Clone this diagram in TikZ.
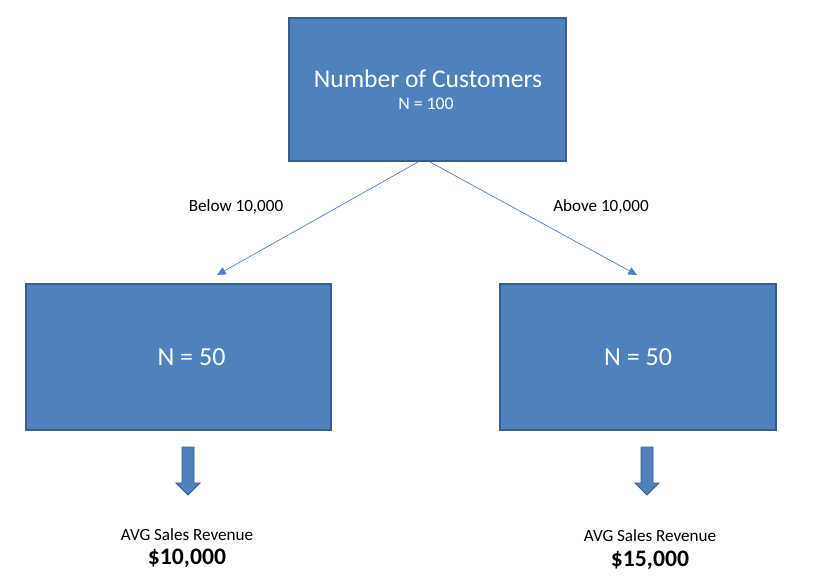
\documentclass[tikz,border=0pt]{standalone}
\usepackage{fontspec}
\setmainfont{Carlito}
\usepackage{tikz}
\usetikzlibrary{arrows.meta,positioning}
\definecolor{boxblue}{HTML}{4F81BD}
\definecolor{boxedge}{HTML}{385D8A}
\tikzset{
  box/.style={draw=boxedge,fill=boxblue,line width=1.7pt,text=white,align=center,inner sep=0pt},
  ar/.style={-{Triangle[length=2.6mm,width=2.4mm]},draw=boxblue,line width=0.6pt},
  lbl/.style={font=\fontsize{14.6}{17}\selectfont,inner sep=0pt},
  val/.style={font=\fontsize{20.2}{24}\selectfont\bfseries,inner sep=0pt},
  blockar/.style={draw=boxedge,fill=boxblue,line width=0.8pt},
}
\begin{document}
\begin{tikzpicture}[x=0.03cm,y=-0.03cm]
\useasboundingbox (0,0) rectangle (827,586);
% root and the two splits
\node[box,minimum width=8.31cm,minimum height=4.29cm] (root) at (427.5,89.5) {};
\node[text=white,font=\fontsize{21.8}{26}\selectfont,inner sep=0pt] (rtitle) at (428,79) {Number of Customers};
\node[text=white,font=\fontsize{15.2}{18}\selectfont,inner sep=0pt] (rn) at (426,104) {N = 100};
\node[box,minimum width=9.15cm,minimum height=4.38cm,font=\fontsize{22.2}{26}\selectfont] (lo) at (178.5,357) {\hspace*{0.78cm}N = 50};
\node[box,minimum width=8.28cm,minimum height=4.38cm,font=\fontsize{22.2}{26}\selectfont] (hi) at (638,357) {N = 50};
% connectors
\coordinate (ltip) at (217,275);
\coordinate (rtip) at (637,275);
\draw[ar] (root.south -| 418,0) -- (ltip);
\draw[ar] (root.south -| 430,0) -- (rtip);
\node[lbl] (below) at (236,207) {Below 10,000};
\node[lbl] (above) at (601,207) {Above 10,000};
% block arrows
\foreach \n/\x in {l/188,r/647} {
  \coordinate (b\n) at (\x,447);
  \draw[blockar] (b\n) ++(-6,0) -- ++(12,0) -- ++(0,36) -- ++(6,0) -- ++(-12,12) -- ++(-12,-12) -- ++(6,0) -- cycle;
}
% averages
\node[lbl] (lavg) at (187,535) {AVG Sales Revenue};
\node[val] (lval) at (187,558) {\$10,000};
\node[lbl] (ravg) at (650,536) {AVG Sales Revenue};
\node[val] (rval) at (650,560) {\$15,000};
\end{tikzpicture}
\end{document}
